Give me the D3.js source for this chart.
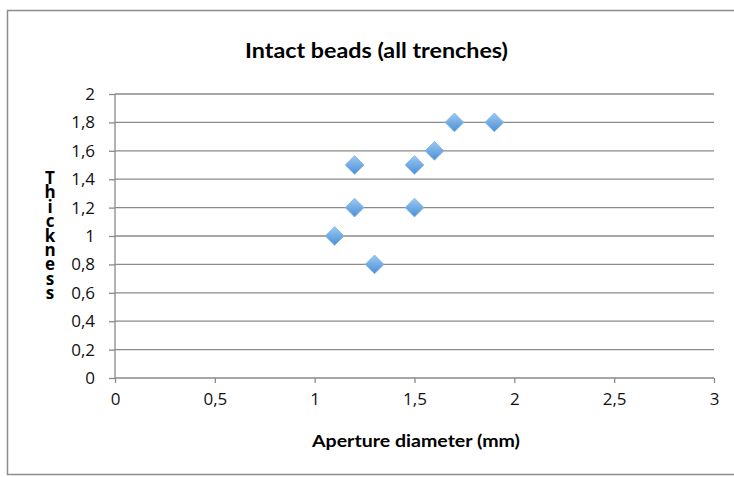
<!DOCTYPE html>
<html>
  <head>
    <meta charset="utf-8">
    <title>Intact beads</title>
    <script src="https://cdnjs.cloudflare.com/ajax/libs/d3/7.8.5/d3.min.js"></script>
    <style>
      body { margin: 0; background: #fff; }
      text { font-family: Lato, "Open Sans", Arial, sans-serif; }
    </style>
  </head>
  <body>
    <script>

      var outerWidth = 734;
      var outerHeight = 477;
      var margin = { left: 115, top: 94, right: 20, bottom: 99 };

      // data
      var aperture  = [1.1, 1.2, 1.2, 1.3, 1.5, 1.5, 1.6, 1.7, 1.9];
      var thickness = [1.0, 1.5, 1.2, 0.8, 1.5, 1.2, 1.6, 1.8, 1.8];
      var xTicks = [0, 0.5, 1, 1.5, 2, 2.5, 3];
      var yTicks = [0, 0.2, 0.4, 0.6, 0.8, 1, 1.2, 1.4, 1.6, 1.8, 2];
      var yLabel = "Thickness";

      var innerWidth  = outerWidth  - margin.left - margin.right;
      var innerHeight = outerHeight - margin.top  - margin.bottom;

      var svg = d3.select("body").append("svg")
        .attr("width", outerWidth)
        .attr("height", outerHeight);

      // chart border (right side runs off the picture)
      svg.append("path")
        .attr("d", "M734,10.5H7.5V474.5H734")
        .attr("fill", "none")
        .attr("stroke", "#8c8c8c")
        .attr("stroke-width", 1.5);

      var defs = svg.append("defs");
      var grad = defs.append("linearGradient")
        .attr("id", "mk")
        .attr("x1", "0").attr("y1", "0").attr("x2", "1").attr("y2", "1");
      grad.append("stop").attr("offset", "0%").attr("stop-color", "#9ccaf2");
      grad.append("stop").attr("offset", "100%").attr("stop-color", "#4a8fd6");

      var g = svg.append("g")
        .attr("transform", "translate(" + margin.left + "," + margin.top + ")");

      var xScale = d3.scaleLinear().domain([0, 3]).range([0, innerWidth]);
      var yScale = d3.scaleLinear().domain([0, 2]).range([innerHeight, 0]);

      var fmt = function (d) { return String(d).replace(".", ","); };

      // gridlines
      g.append("g").selectAll("line").data(yTicks.slice(1)).enter().append("line")
        .attr("x1", 0).attr("x2", innerWidth)
        .attr("y1", function (d) { return yScale(d); })
        .attr("y2", function (d) { return yScale(d); })
        .attr("stroke", "#8a8a8a")
        .attr("stroke-width", 1.3);

      // axes
      var yAxisG = g.append("g").call(d3.axisLeft(yScale).tickValues(yTicks).tickFormat(fmt).tickSize(6).tickPadding(14));
      var xAxisG = g.append("g")
        .attr("transform", "translate(0," + innerHeight + ")")
        .call(d3.axisBottom(xScale).tickValues(xTicks).tickFormat(fmt).tickSize(5).tickPadding(10));

      [xAxisG, yAxisG].forEach(function (a) {
        a.attr("font-family", "'Open Sans', Arial, sans-serif").attr("font-size", 17);
        a.select(".domain").attr("stroke", "#8a8a8a").attr("stroke-width", 1.3);
        a.selectAll(".tick line").attr("stroke", "#8a8a8a").attr("stroke-width", 1.3);
        a.selectAll(".tick text")
          .attr("fill", "#111")
          .style("font-family", "'Open Sans', Arial, sans-serif")
          .style("font-size", "17px");
      });
      yAxisG.select(".domain").attr("d", "M0,0V" + innerHeight);
      xAxisG.select(".domain").attr("d", "M0,0H" + innerWidth);

      // markers
      var sym = d3.symbol().type(d3.symbolSquare).size(175);
      g.append("g").selectAll("path").data(aperture).enter().append("path")
        .attr("d", sym)
        .attr("transform", function (d, i) {
          return "translate(" + xScale(d) + "," + yScale(thickness[i]) + ") rotate(45)";
        })
        .attr("fill", "url(#mk)")
        .attr("stroke", "#7eb2e6")
        .attr("stroke-width", 0.8);

      // title
      svg.append("text")
        .attr("x", 245).attr("y", 58)
        .attr("font-weight", "bold")
        .attr("textLength", 263)
        .attr("lengthAdjust", "spacingAndGlyphs")
        .style("font-size", "21px")
        .text("Intact beads (all trenches)");

      // x label
      svg.append("text")
        .attr("x", 312).attr("y", 447)
        .attr("font-weight", "bold")
        .attr("textLength", 208)
        .attr("lengthAdjust", "spacingAndGlyphs")
        .style("font-size", "17px")
        .text("Aperture diameter (mm)");

      // y label, stacked letters
      svg.append("g").selectAll("text").data(yLabel.split("")).enter().append("text")
        .attr("x", 50)
        .attr("y", function (d, i) { return 184 + i * 14.4; })
        .attr("text-anchor", "middle")
        .attr("font-weight", "bold")
        .style("font-family", "'Open Sans', Arial, sans-serif")
        .style("font-size", "17px")
        .text(function (d) { return d; });

    </script>
  </body>
</html>
